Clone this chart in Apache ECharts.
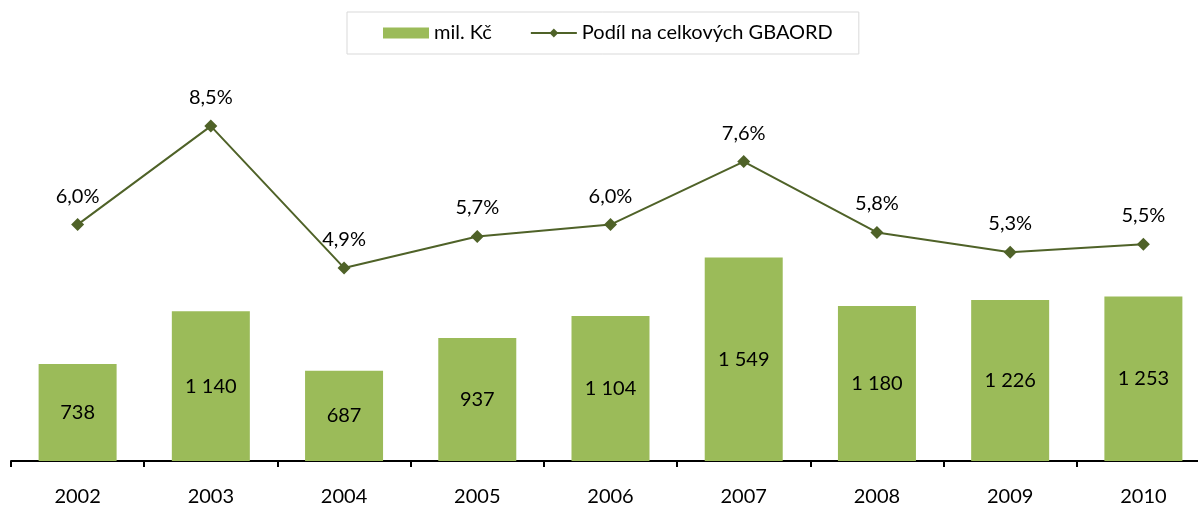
<!DOCTYPE html>
<html>
<head>
<meta charset="utf-8">
<script src="https://cdn.jsdelivr.net/npm/echarts@6/dist/echarts.min.js"></script>
<style>
  html, body { margin: 0; padding: 0; background: #fff; }
  #chart { width: 1198px; height: 508px; }
</style>
</head>
<body>
<div id="chart"></div>
<script>
var years = ['2002', '2003', '2004', '2005', '2006', '2007', '2008', '2009', '2010'];
var milKc = [738, 1140, 687, 937, 1104, 1549, 1180, 1226, 1253];
var podil = [6.0, 8.5, 4.9, 5.7, 6.0, 7.6, 5.8, 5.3, 5.5];

var myChart = echarts.init(document.getElementById('chart'));

function fmtNum(v) {
    return String(v).replace(/\B(?=(\d{3})+(?!\d))/g, ' ');
}

var option = {
    textStyle: { fontFamily: 'Lato, "Open Sans", sans-serif' },
    animation: false,
    legend: {
        top: 12,
        left: 347,
        borderColor: '#d9d9d9',
        borderWidth: 1,
        padding: [11, 26, 11, 36],
        itemGap: 38,
        itemWidth: 46,
        itemHeight: 11,
        textStyle: { fontSize: 20, color: '#000' },
        data: [
            { name: 'mil. Kč', icon: 'rect' },
            { name: 'Podíl na celkových GBAORD' }
        ]
    },
    grid: {
        left: 11,
        width: 1199,
        top: 67,
        bottom: 47,
        outerBoundsMode: 'none'
    },
    xAxis: {
        type: 'category',
        data: years,
        axisLine: { lineStyle: { color: '#000', width: 2 } },
        axisTick: { show: true, interval: 0, length: 6, lineStyle: { color: '#000', width: 2 } },
        axisLabel: { fontSize: 20, color: '#000', margin: 26 }
    },
    yAxis: [
        { type: 'value', min: 0, max: 3000, show: false, splitLine: { show: false } },
        { type: 'value', min: 0, max: 10, show: false, splitLine: { show: false } }
    ],
    series: [
        {
            name: 'mil. Kč',
            type: 'bar',
            data: milKc,
            barWidth: 78,
            itemStyle: { color: '#9bbb59' },
            label: {
                show: true,
                position: 'inside',
                fontSize: 20,
                color: '#000',
                formatter: function (p) { return fmtNum(p.value); }
            }
        },
        {
            name: 'Podíl na celkových GBAORD',
            type: 'line',
            yAxisIndex: 1,
            data: podil,
            symbol: 'diamond',
            symbolSize: 13,
            lineStyle: { color: '#4f6228', width: 2 },
            itemStyle: { color: '#4f6228' },
            label: {
                show: true,
                position: 'top',
                distance: 12,
                fontSize: 20,
                color: '#000',
                formatter: function (p) { return p.value.toFixed(1).replace('.', ',') + '%'; }
            }
        }
    ]
};

myChart.setOption(option);
</script>
</body>
</html>
